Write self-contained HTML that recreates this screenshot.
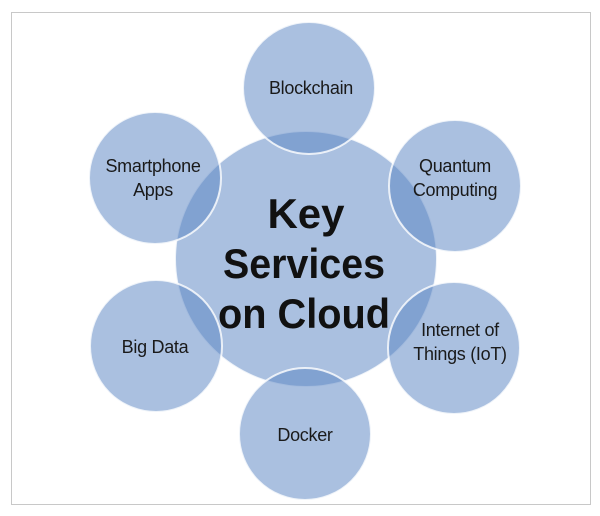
<!DOCTYPE html>
<html><head><style>
html,body{margin:0;padding:0;background:#fff;width:600px;height:516px;overflow:hidden}
svg{display:block}
text{font-family:"Liberation Sans",sans-serif;fill:#1a1a1a}
</style></head><body>
<svg width="600" height="516" viewBox="0 0 600 516">
<rect x="11.5" y="12.5" width="579" height="492" fill="#fff" stroke="#c8c8c8" stroke-width="1"/>
<g fill="#5c87c4" fill-opacity="0.52" stroke="#fff" stroke-width="2" stroke-opacity="0.8">
<ellipse cx="306" cy="259" rx="131" ry="128"/>
<circle cx="309" cy="88" r="66"/>
<circle cx="455" cy="186" r="66"/>
<circle cx="454" cy="348" r="66"/>
<circle cx="305" cy="434" r="66"/>
<circle cx="156" cy="346" r="66"/>
<circle cx="155" cy="178" r="66"/>
</g>
<g font-size="18" text-anchor="middle" letter-spacing="-0.3">
<text x="311" y="94">Blockchain</text>
<text x="455" y="172">Quantum</text>
<text x="455" y="196">Computing</text>
<text x="460" y="336">Internet of</text>
<text x="460" y="360">Things (IoT)</text>
<text x="305" y="441">Docker</text>
<text x="155" y="353">Big Data</text>
<text x="153" y="172">Smartphone</text>
<text x="153" y="196">Apps</text>
</g>
<g font-size="42" font-weight="bold" text-anchor="middle" style="font-family:'DejaVu Sans',sans-serif">
<text x="306" y="228" style="fill:#111">Key</text>
<text x="304" y="278" style="fill:#111" textLength="162" lengthAdjust="spacingAndGlyphs">Services</text>
<text x="304" y="328" style="fill:#111" textLength="172" lengthAdjust="spacingAndGlyphs">on Cloud</text>
</g>
</svg>
</body></html>
